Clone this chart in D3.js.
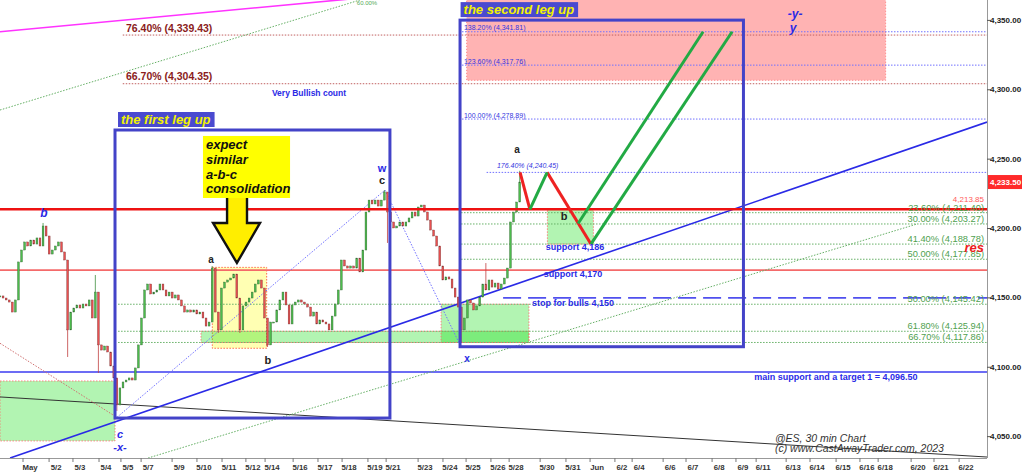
<!DOCTYPE html>
<html><head><meta charset="utf-8">
<script src="https://cdn.jsdelivr.net/npm/d3@7"></script>
<style>html,body{margin:0;padding:0;background:#fff;overflow:hidden}svg{display:block;font-family:"Liberation Sans",Arial,sans-serif}</style>
</head><body><svg id="c" width="1024" height="474"></svg>
<script>
// ---------- DATA ----------
// 30-min price path, sampled every 1/8 session day (closes)
const closes = [4151.4,4149.9,4148.5,4147.0,4139.8,4148.5,4175.9,4184.5,4190.3,4187.4,
 4191.7,4188.8,4193.2,4187.4,4201.8,4194.6,4181.6,4184.5,4187.4,4190.3,
 4183.1,4177.3,4126.9,4139.8,4142.7,4144.9,4142.7,4145.6,4144.2,4148.5,
 4135.5,4154.2,4116.1,4112.4,4115.3,4111.0,4100.9,4092.3,4072.8,4085.1,
 4089.4,4090.8,4092.3,4090.8,4099.5,4116.1,4135.5,4155.7,4160.0,4152.8,
 4154.2,4155.7,4160.0,4155.7,4151.4,4154.2,4149.9,4152.1,4148.5,4144.2,
 4139.8,4141.3,4139.8,4141.3,4138.4,4139.8,4135.5,4129.7,4132.6,4171.5,
 4139.8,4126.9,4157.1,4161.4,4162.9,4164.3,4167.2,4149.9,4126.9,4144.2,
 4147.0,4149.9,4154.2,4160.0,4162.9,4157.1,4135.5,4116.1,4132.6,4132.6,
 4141.3,4148.5,4154.2,4144.9,4131.2,4144.9,4147.0,4148.5,4147.0,4145.6,
 4143.4,4136.9,4139.8,4131.2,4134.1,4132.6,4131.2,4126.9,4136.9,4145.6,
 4155.7,4177.3,4173.0,4171.5,4173.0,4171.5,4178.7,4168.7,4184.5,4211.9,
 4220.5,4217.7,4220.5,4216.2,4220.5,4226.3,4211.9,4204.7,4200.4,4201.8,
 4204.7,4201.8,4204.7,4207.6,4211.9,4209.0,4215.5,4216.9,4211.9,4206.1,
 4198.9,4194.6,4187.4,4173.0,4162.9,4165.1,4163.6,4157.1,4150.6,4143.4,
 4126.9,4135.5,4148.5,4146.3,4141.3,4144.2,4150.6,4160.0,4155.7,4162.9,
 4157.8,4160.7,4156.4,4160.0,4164.3,4171.5,4204.7,4211.9,4219.1,4233.5];
const barsPerDay = 8;
// notable wick extremes [bar index, price]
const spikes = [[14,4204.0],[22,4107.4],[31,4166.5],[32,4095.9],[38,4068.5],[69,4173.0],[71,4124.7],
 [78,4124.7],[87,4114.6],[125,4227.7],[126,4189.6],[150,4117.5],[158,4175.1],[169,4241.6]];
const lastPrice = 4233.50;

const tickLabels = ["May","5/2","5/3","5/4","5/5","5/7","5/9","5/10","5/11","5/12","5/14","5/16","5/17","5/18","5/19","5/21","5/23","5/24","5/25","5/26","5/28","5/30","5/31","Jun","6/2","6/4","6/6","6/7","6/8","6/9","6/11","6/13","6/14","6/15","6/16","6/18","6/20","6/21","6/22"];
const tickDays = [1.22,2.28,3.25,4.31,5.20,6.02,7.28,8.29,9.31,10.28,11.06,12.20,13.21,14.19,15.24,15.98,17.28,18.29,19.23,20.24,20.98,22.24,23.29,24.27,25.28,25.98,27.24,28.17,29.23,30.20,31.02,32.24,33.21,34.27,35.24,35.98,37.32,38.25,39.27];
const priceTicks = [4050,4100,4150,4200,4250,4300,4350];

const extPct = ["76.40%","66.70%"];
const extPrice = [4339.43,4304.35];
const legPct = ["138.20%","123.60%","100.00%"];
const legPrice = [4341.81,4317.76,4278.89];
const legHiPct = "176.40%", legHiPrice = 4240.45;
const retAPct = ["23.60%","30.00%","41.40%","50.00%"];
const retAPrice = [4211.40,4203.27,4188.78,4177.85];
const retBPct = ["50.00%","61.80%","66.70%"];
const retBPrice = [4145.42,4125.94,4117.86];

const resLevel = 4213.85, support170 = 4170, stopLevel = 4150, mainSupport = 4096.50;

// projected path [day, price]
const projRed1 = [[21.14,4240.45],[21.54,4213.85]];
const projGreen1 = [[21.54,4213.85],[22.24,4240.45]];
const projRed2 = [[22.24,4240.45],[24.02,4188.78]];
const projGreen2 = [[23.50,4203.6],[28.58,4341.81]];
const projGreen3 = [[24.02,4188.78],[29.76,4341.81]];

// ---------- SETUP ----------
const plotR = 987, plotB = 458;
const x = d3.scaleLinear().domain([0, 40.12]).range([0, plotR]);
const y = d3.scaleLinear().domain([4034.6, 4364.7]).range([plotB, 0]);
const fmt = d3.format(",.2f");
const svg = d3.select("#c");
svg.append("rect").attr("width",1024).attr("height",474).attr("fill","#fff");
svg.append("defs").append("clipPath").attr("id","clip").append("rect")
  .attr("x",0).attr("y",0).attr("width",plotR).attr("height",plotB);
const g = svg.append("g").attr("clip-path","url(#clip)");

function rectD(par, d0, d1, p0, p1){
  return par.append("rect").attr("x",x(d0)).attr("width",x(d1)-x(d0))
    .attr("y",y(Math.max(p0,p1))).attr("height",Math.abs(y(p0)-y(p1)));
}
function seg(par, a, b){
  return par.append("line").attr("x1",x(a[0])).attr("y1",y(a[1])).attr("x2",x(b[0])).attr("y2",y(b[1]));
}
function hline(par, p, d0, d1){ return seg(par,[d0,p],[d1 ?? 40.12,p]); }

// ---------- ZONES ----------
rectD(g, 18.97, 36.0, 4306.8, 4375).attr("fill","#ffb3b3").attr("stroke","#ff7a7a").attr("stroke-dasharray","1,2");
rectD(g, 8.63, 10.84, 4172.0, 4113.7).attr("fill","#ffff99").attr("fill-opacity",0.75).attr("stroke","#ff6a4a").attr("stroke-dasharray","1.5,1.5");
const greenFill = (s)=>s.attr("fill","rgb(0,220,0)").attr("fill-opacity",0.3).attr("stroke","#ff6a6a").attr("stroke-dasharray","1.5,1.5").attr("stroke-width",0.8);
greenFill(rectD(g, 0, 4.675, 4090.1, 4046.9));
greenFill(rectD(g, 8.17, 21.5, retBPrice[1], retBPrice[2]));
greenFill(rectD(g, 17.93, 21.5, retBPrice[0], retBPrice[2]));
greenFill(rectD(g, 22.25, 24.12, resLevel, retAPrice[2]));

// ---------- LEVEL LINES ----------
extPrice.forEach(p=>hline(g,p,4.99).attr("stroke","#c06060").attr("stroke-width",1).attr("stroke-dasharray","1.5,1.5"));
legPrice.forEach(p=>hline(g,p,18.78).attr("stroke","#7070ff").attr("stroke-width",1).attr("stroke-dasharray","1.5,1.5"));
hline(g,legHiPrice,19.78).attr("stroke","#7070ff").attr("stroke-width",1).attr("stroke-dasharray","1.5,1.5");
retAPrice.forEach(p=>hline(g,p,18.74).attr("stroke","#66b066").attr("stroke-width",1).attr("stroke-dasharray","1.5,1.5"));
retBPrice.forEach(p=>hline(g,p,4.80).attr("stroke","#66b066").attr("stroke-width",1).attr("stroke-dasharray","1.5,1.5"));

hline(g,support170,0).attr("stroke","#f46a6a").attr("stroke-width",1.6);
hline(g,mainSupport,0).attr("stroke","#3b3bf0").attr("stroke-width",1.5);
hline(g,stopLevel,20.45).attr("stroke","#5050ee").attr("stroke-width",1.6).attr("stroke-dasharray","18,7");

// diagonals
seg(g,[0,4078.6],[40.12,4035.3]).attr("stroke","#333").attr("stroke-width",1);
seg(g,[0,4341.8],[20,4375]).attr("stroke","#ff33ff").attr("stroke-width",1.6);
seg(g,[0,4285.4],[14.63,4364.7]).attr("stroke","#66b066").attr("stroke-width",1).attr("stroke-dasharray","1.5,1.5");
seg(g,[6.02,4034.6],[37.28,retAPrice[1]]).attr("stroke","#66b066").attr("stroke-width",1).attr("stroke-dasharray","1.5,1.5");
seg(g,[0,4117.3],[4.74,4064]).attr("stroke","#d07070").attr("stroke-width",1).attr("stroke-dasharray","1.5,1.5");
seg(g,[4.76,4064],[15.65,4227.7]).attr("stroke","#7070ff").attr("stroke-width",1).attr("stroke-dasharray","1.5,1.5");
seg(g,[15.65,4227.7],[18.75,4114.3]).attr("stroke","#7070ff").attr("stroke-width",1).attr("stroke-dasharray","1.5,1.5");
seg(g,[0.41,4034.6],[40.12,4276.7]).attr("stroke","#2a2ae6").attr("stroke-width",1.6);

// ---------- CANDLES ----------
const spikeMap = new Map(spikes);
const bars = closes.map((c,i)=>{
  const o = i>0 ? closes[i-1] : c;
  let hi = Math.max(o,c), lo = Math.min(o,c);
  if (spikeMap.has(i)) { const s = spikeMap.get(i); if (s>hi) hi=s; if (s<lo) lo=s; }
  return {i, o, c, hi, lo, d: i/barsPerDay};
});
const cg = g.append("g");
cg.selectAll("line.w").data(bars).join("line").attr("class","w")
  .attr("x1",d=>x(d.d)).attr("x2",d=>x(d.d)).attr("y1",d=>y(d.hi)).attr("y2",d=>y(d.lo))
  .attr("stroke",d=>d.c>=d.o?"#3f8f3f":"#c04040").attr("stroke-width",0.8);
cg.selectAll("rect").data(bars).join("rect")
  .attr("x",d=>x(d.d)-0.9).attr("width",1.8)
  .attr("y",d=>y(Math.max(d.o,d.c))).attr("height",d=>Math.max(1,Math.abs(y(d.o)-y(d.c))))
  .attr("fill",d=>d.c>=d.o?"#4cbb4c":"#e85050").attr("stroke",d=>d.c>=d.o?"#3a6a3a":"#7a3a3a").attr("stroke-width",0.4);

// red resistance line over candles
hline(g,resLevel,0).attr("stroke","#ee1111").attr("stroke-width",2.5);

// ---------- WAVE BOXES ----------
rectD(g, 4.675, 15.85, 4271.0, 4063.4).attr("fill","none").attr("stroke","#4343c8").attr("stroke-width",3);
rectD(g, 18.70, 30.22, 4350.2, 4114.8).attr("fill","none").attr("stroke","#4343c8").attr("stroke-width",3);

// projections
[projRed1, projRed2].forEach(s=>seg(g,s[0],s[1]).attr("stroke","#ee2222").attr("stroke-width",3));
[projGreen1, projGreen2, projGreen3].forEach(s=>seg(g,s[0],s[1]).attr("stroke","#22aa44").attr("stroke-width",3));

// ---------- ARROW + TEXT BOXES ----------
const arrow = [[9.23,4224.5],[10.04,4224.5],[10.04,4204],[10.57,4204],[9.63,4175.2],[8.66,4204],[9.23,4204]];
g.append("path").attr("d","M"+arrow.map(p=>x(p[0])+","+y(p[1])).join("L")+"Z")
  .attr("fill","#ffee00").attr("stroke","#111").attr("stroke-width",2.4).attr("stroke-linejoin","miter");
rectD(g, 8.25, 11.79, 4266.7, 4222.0).attr("fill","#ffff00");
const tb = g.append("text").attr("font-size",13).attr("font-weight","bold").attr("font-style","italic").attr("fill","#111");
["expect","similar","a-b-c","consolidation"].forEach((t,k)=>{
  tb.append("tspan").attr("x",x(8.25)+3).attr("y",y(4266.7)+13+k*14.8).text(t);
});

function legLabel(text, d, p){
  const bx = x(d)+3, by = y(p)-18;
  const t = g.append("text").attr("x",bx+3).attr("y",by+12).attr("font-size",13).attr("font-weight","bold")
    .attr("font-style","italic").attr("fill","#f2f200").text(text);
  const w = t.node().getComputedTextLength();
  g.insert("rect", () => t.node()).attr("x",bx).attr("y",by).attr("width",w+7).attr("height",15).attr("fill","#4a4ad0");
}
legLabel("the first leg up", 4.675, 4271.0);
legLabel("the second leg up", 18.60, 4350.2);

// ---------- LEVEL LABELS ----------
const tg = svg.append("g");
extPct.forEach((pc,k)=>tg.append("text").attr("x",x(5.12)).attr("y",y(extPrice[k])-3.5)
  .attr("font-size",10.5).attr("font-weight","bold").attr("fill","#8b1c1c").text(`${pc} (${fmt(extPrice[k])})`));
legPct.forEach((pc,k)=>tg.append("text").attr("x",x(18.86)).attr("y",y(legPrice[k])-1.5)
  .attr("font-size",7).attr("fill","#3434e0").text(`${pc} (${fmt(legPrice[k])})`));
tg.append("text").attr("x",x(20.2)).attr("y",y(legHiPrice)-4).attr("font-size",7).attr("font-style","italic")
  .attr("fill","#3434e0").text(`${legHiPct} (${fmt(legHiPrice)})`);
retAPct.concat(retBPct).forEach((pc,k)=>{
  const p = retAPrice.concat(retBPrice)[k];
  tg.append("text").attr("x",984).attr("y",y(p)-2).attr("text-anchor","end").attr("font-size",9.3)
    .attr("fill","#4f9f4f").text(`${pc} (${fmt(p)})`);
});
tg.append("text").attr("x",984).attr("y",y(resLevel)-7).attr("text-anchor","end").attr("font-size",8)
  .attr("fill","#ff5a5a").text(fmt(resLevel));
tg.append("text").attr("x",984).attr("y",y(4188.78)+7.5).attr("text-anchor","end").attr("font-size",13)
  .attr("font-weight","bold").attr("font-style","italic").attr("fill","#ee2020").text("res");

const styles = {
  blueBI12:{fs:12,fw:"bold",st:"italic",c:"#2a2ae6"},
  blueBI11:{fs:11,fw:"bold",st:"italic",c:"#2a2ae6"},
  blueB11:{fs:11,fw:"bold",st:"normal",c:"#2a2ae6"},
  blueB10:{fs:10,fw:"bold",st:"normal",c:"#2a2ae6"},
  blueB9:{fs:9,fw:"bold",st:"normal",c:"#2a2ae6"},
  blueB85:{fs:8.5,fw:"bold",st:"normal",c:"#2a2ae6"},
  blk10:{fs:10,fw:"bold",st:"normal",c:"#222"},
  blk11:{fs:11,fw:"bold",st:"normal",c:"#222"},
  grn6:{fs:6,fw:"normal",st:"normal",c:"#55aa55"}
};
const notes = [["b",1.79,4211.2,"blueBI12"],["a",8.58,4178.0,"blk10"],["b",10.89,4105.2,"blk11"],
 ["c",4.88,4051.9,"blueBI11"],["-x-",4.88,4042.5,"blueBI11"],["w",15.53,4243.6,"blueB11"],
 ["c",15.53,4235.0,"blk11"],["x",18.98,4106.0,"blueB10"],["a",21.02,4256.6,"blk10"],["b",22.93,4209.0,"blk11"],
 ["-y-",32.32,4354.6,"blueBI12"],["y",32.24,4344.5,"blueBI12"],["Very Bullish count",12.56,4297.6,"blueB85"],
 ["support 4,186",23.37,4186.7,"blueB9"],["support 4,170",23.29,4167.2,"blueB9"],
 ["stop for bulls 4,150",23.29,4146.6,"blueB9"],["main support and a target 1 = 4,096.50",33.98,4093.0,"blueB9"],
 ["60.00%",14.92,4362.3,"grn6"]];
notes.forEach(([t,d,p,s])=>{
  const st = styles[s];
  tg.append("text").attr("x",x(d)).attr("y",y(p)).attr("text-anchor","middle").attr("dominant-baseline","central")
    .attr("font-size",st.fs).attr("font-weight",st.fw).attr("font-style",st.st).attr("fill",st.c).text(t);
});
[["@ES, 30 min Chart",4049.1],["(c) www.CastAwayTrader.com, 2023",4041.6]].forEach(([t,p])=>{
  tg.append("text").attr("x",x(31.5)).attr("y",y(p)).attr("dominant-baseline","central").attr("font-size",10.5)
    .attr("font-style","italic").attr("fill","#333").text(t);
});

// ---------- AXES ----------
const ax = svg.append("g");
ax.append("line").attr("x1",0).attr("x2",plotR).attr("y1",plotB+0.5).attr("y2",plotB+0.5).attr("stroke","#999");
ax.append("line").attr("x1",plotR+0.5).attr("x2",plotR+0.5).attr("y1",0).attr("y2",plotB).attr("stroke","#999");
priceTicks.forEach(p=>{
  ax.append("line").attr("x1",plotR).attr("x2",plotR+4).attr("y1",y(p)).attr("y2",y(p)).attr("stroke","#555");
  ax.append("text").attr("x",plotR+3).attr("y",y(p)).attr("dominant-baseline","central").attr("font-size",8)
    .attr("font-weight","bold").attr("fill","#222").text(fmt(p));
});
ax.append("rect").attr("x",plotR+1).attr("y",y(lastPrice)-7).attr("width",34).attr("height",14).attr("fill","#ff2a2a");
ax.append("text").attr("x",plotR+3).attr("y",y(lastPrice)).attr("dominant-baseline","central").attr("font-size",8)
  .attr("font-weight","bold").attr("fill","#fff").text(fmt(lastPrice));
tickLabels.forEach((t,k)=>{
  const xx = x(tickDays[k]);
  ax.append("line").attr("x1",xx-7).attr("x2",xx-7).attr("y1",plotB).attr("y2",plotB+4).attr("stroke","#777");
  ax.append("text").attr("x",xx).attr("y",467).attr("text-anchor","middle").attr("dominant-baseline","central")
    .attr("font-size",7.8).attr("font-weight","bold").attr("fill","#333").text(t);
});
</script></body></html>
